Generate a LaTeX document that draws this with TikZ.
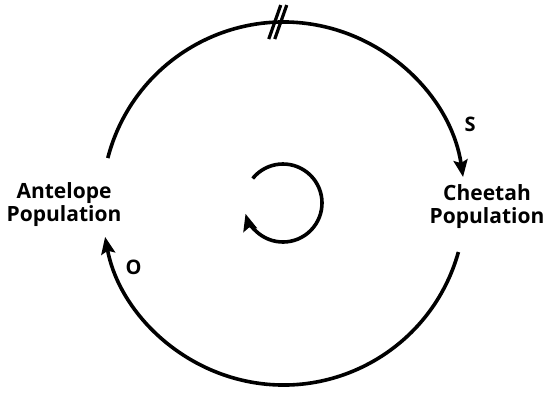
\documentclass[tikz,border=0pt]{standalone}
\usepackage{fontspec}
\setmainfont{Open Sans}
\usetikzlibrary{arrows.meta, positioning}

\begin{document}
\begin{tikzpicture}[
    x=1pt, y=1pt,
    font=\bfseries\fontsize{21}{23}\selectfont,
    >={Stealth[length=17pt, width=14pt, inset=3pt]},
    link/.style={->, line width=3.6pt},
    pop/.style={align=center, inner sep=2pt},
    sign/.style={font=\bfseries\fontsize{20}{22}\selectfont},
    delaymark/.style={line width=3.2pt}
]
\useasboundingbox (0,0) rectangle (545,392);

\coordinate (hub) at (283.5,188.5);
\coordinate (loop) at (283,189);
\node[pop] (antelope) at (64,187) {Antelope\\Population};
\node[pop] (cheetah) at (487,185) {Cheetah\\Population};

% antelope -> cheetah (with delay)
\draw[link] ([shift={(165.5:181.5)}]hub) arc[start angle=165.5, end angle=8.4, radius=181.5];
% cheetah -> antelope
\draw[link] ([shift={(-15.5:181.5)}]hub) arc[start angle=-15.5, end angle=-169.4, radius=181.5];

% delay
\coordinate (delay) at ([shift={(91.5:181.5)}]hub);
\draw[delaymark] ([shift={(-10,-17)}]delay) -- ([shift={(2,17)}]delay);
\draw[delaymark] ([shift={(-4,-17)}]delay) -- ([shift={(8,17)}]delay);

\node[sign] (s) at (470,267.5) {S};
\node[sign] (o) at (133.5,125) {O};

% loop sign
\draw[link] ([shift={(141:39)}]loop) arc[start angle=141, end angle=-164, radius=39];

\end{tikzpicture}
\end{document}
